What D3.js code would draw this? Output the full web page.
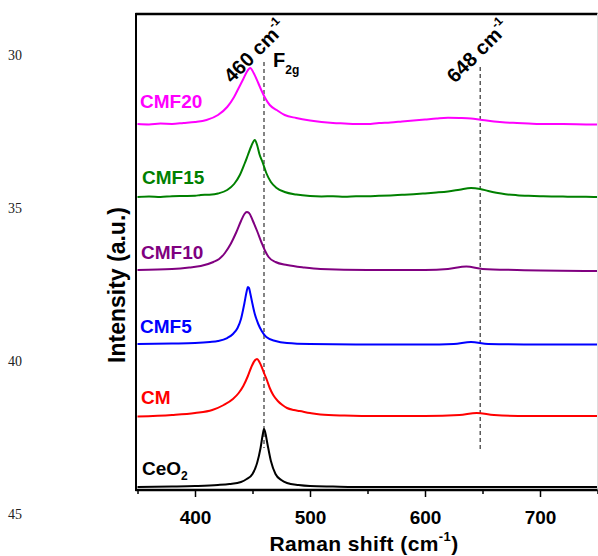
<!DOCTYPE html>
<html><head><meta charset="utf-8">
<script src="https://cdn.jsdelivr.net/npm/d3@7/dist/d3.min.js"></script>
<style>body{margin:0;background:#fff;} svg{display:block;}</style>
</head><body>
<svg id="chart" width="598" height="556"></svg>
<script>
// ---- data (Raman shift in cm-1, intensity in a.u. incl. stacking offset) ----
const seriesNames = ["CeO2", "CM", "CMF5", "CMF10", "CMF15", "CMF20"];
const seriesColors = ["#000000", "#ff0000", "#0000ff", "#800080", "#008000", "#ff00ff"];

const ceo2 = [[350,2],[380,2.5],[400,3],[420,4],[430,5],[440,7],[445,10],[450,15],[454,26],[457,41],[459,55],[460,60],[461,57],[463,45],[466,28],[470,15],[475,9],[480,6],[490,4],[500,3],[520,2.5],[550,2],[600,2],[650,2],[700,2],[750,2]];
const cm = [[350,72.5],[380,74],[400,76],[415,79],[425,84],[433,90],[438,96],[442,103],[446,113],[449,122],[452,128.5],[454,130],[456,127],[458,122],[460,116],[462.5,109],[465,101],[468,94],[472,88],[476,84],[480,81],[486,79],[491,78],[500,76],[509,74.5],[530,73.5],[560,73],[600,73],[630,74],[645,76],[660,74],[690,73],[720,73],[750,73]];
const cmf5 = [[350,145],[380,145.5],[400,146],[413,147],[420,148],[428,151],[433,155],[437,161],[440,170],[443,186],[445,198],[446,202],[447,201],[448,196],[450,185],[452,175],[455,165],[458,158],[462,152],[470,148],[480,146],[500,145],[550,144.5],[600,144.5],[625,145],[640,147],[655,145],[700,144.5],[750,144.5]];
const cmf10 = [[350,219],[380,220],[395,221.5],[405,223],[416,227],[421,230],[426,236],[431,245],[436,257],[440,268],[443,275],[445,277],[447,276],[450,269],[454,258],[458,246],[461,238],[464,232],[470,227],[480,224],[495,221.5],[509,220],[550,219],[600,219],[620,220],[636,222.5],[650,220],[680,219],[750,218]];
const cmf15 = [[350,292],[360,292.5],[370,292],[380,292.8],[390,293],[400,293.2],[405,294],[412,294.3],[420,295.5],[428,299],[434,305],[439,314],[443,325],[446,334],[449,343],[452,349],[454,344],[456,335],[459,326],[462,316],[466,307],[471,301],[478,297],[488,294.5],[500,293],[510,292.6],[520,292.8],[530,292.3],[540,292.7],[550,292.8],[560,293.2],[570,293.6],[580,294.2],[590,294.8],[600,295.6],[610,296.5],[620,297.6],[630,299.3],[640,301],[648,300],[655,298],[662,296.3],[670,294.8],[680,293.8],[690,293.2],[700,292.8],[710,292.5],[720,292.4],[730,292.2],[740,292.3],[750,292]];
const cmf20 = [[350,365],[360,364.6],[370,365.4],[380,365.1],[390,366],[400,367],[410,369],[420,374],[428,382],[434,392],[438,401],[442,410],[445,417],[448,421],[451,416],[455,406],[458,398],[461,391],[465,384],[471,379],[478,374],[488,371],[500,368.5],[510,367],[520,366],[530,365.5],[540,365],[550,365],[560,366],[570,366.5],[580,367.5],[590,368.5],[600,369.5],[610,370.5],[620,371.2],[630,371],[640,370.5],[648,369.3],[660,367.5],[670,366.5],[680,366],[690,365.5],[700,365],[720,365],[740,364.6],[750,364.5]];
const seriesData = [ceo2, cm, cmf5, cmf10, cmf15, cmf20];

const xTicksMajor = [400, 500, 600, 700];
const xTicksMinor = [350, 450, 550, 650, 750];
const markerShifts = [460, 648];
const lineNumbers = ["30", "35", "40", "45"];

// ---- layout ----
const svg = d3.select("#chart");
const pL = 137.5, pR = 597.5, pT = 14, pB = 489, axisY = 490;
const x = d3.scaleLinear().domain([350, 750]).range([pL, pR]);
const y = d3.scaleLinear().domain([0, 475]).range([pB, pT]);
const FONT = "'Liberation Sans', Arial, Helvetica, sans-serif";

// line numbers (manuscript margin)
const lnY = [60, 213, 366, 519];
svg.selectAll("text.ln").data(lineNumbers).enter().append("text")
  .attr("class","ln").attr("x", 8).attr("y", (d,i)=>lnY[i])
  .attr("font-family","'Liberation Serif', 'Times New Roman', serif")
  .attr("font-size", 14).attr("fill", "#222").text(d=>d);

// dashed marker lines
const markerRanges = [[62, 448], [67, 451]];
svg.selectAll("line.marker").data(markerShifts).enter().append("line")
  .attr("x1", d=>x(d)).attr("x2", d=>x(d))
  .attr("y1", (d,i)=>markerRanges[i][0]).attr("y2", (d,i)=>markerRanges[i][1])
  .attr("stroke", "#333").attr("stroke-width", 1.2).attr("stroke-dasharray", "4,3");

// spectra
const line = d3.line().x(d=>x(d[0])).y(d=>y(d[1])).curve(d3.curveMonotoneX);
svg.selectAll("path.spec").data(seriesData).enter().append("path")
  .attr("d", line).attr("fill","none")
  .attr("stroke", (d,i)=>seriesColors[i]).attr("stroke-width", 2)
  .attr("stroke-linejoin","round");

// frame
svg.append("line").attr("x1", pL-2).attr("x2", pR).attr("y1", pT).attr("y2", pT)
  .attr("stroke","#000").attr("stroke-width", 2.5);
svg.append("line").attr("x1", pR).attr("x2", pR).attr("y1", pT).attr("y2", axisY)
  .attr("stroke","#ddd").attr("stroke-width", 1);
svg.append("line").attr("x1", pL-1.5).attr("x2", pL-1.5).attr("y1", pT-1).attr("y2", axisY+1)
  .attr("stroke","#000").attr("stroke-width", 2);

// x axis
const xAxis = d3.axisBottom(x).tickValues(xTicksMajor).tickSize(7).tickPadding(14).tickFormat(d3.format("d"));
const gx = svg.append("g").attr("transform", `translate(0,${axisY})`).call(xAxis);
gx.select(".domain").attr("stroke-width", 2.5).attr("d", `M${pL-2},0H${pR}`);
gx.selectAll(".tick line").attr("stroke-width", 1.5);
gx.selectAll(".tick text").attr("font-family", FONT).attr("font-weight","bold").attr("font-size", 19).attr("fill","#000");
const xMinor = d3.axisBottom(x).tickValues(xTicksMinor).tickSize(4).tickFormat("");
const gxm = svg.append("g").attr("transform", `translate(0,${axisY})`).call(xMinor);
gxm.select(".domain").remove();
gxm.selectAll(".tick line").attr("stroke-width", 1.5);

// axis titles
const xt = svg.append("text").attr("x", 364).attr("y", 551).attr("text-anchor","middle")
  .attr("font-family", FONT).attr("font-weight","bold").attr("font-size", 21).attr("letter-spacing", 0.4);
xt.append("tspan").text("Raman shift (cm");
xt.append("tspan").attr("font-size", 13).attr("dy", -10).text("-1");
xt.append("tspan").attr("dy", 10).text(")");

svg.append("text").attr("transform", "translate(125,285) rotate(-90)").attr("text-anchor","middle")
  .attr("font-family", FONT).attr("font-weight","bold").attr("font-size", 23).text("Intensity (a.u.)");

// series labels
const labelPos = [[142,475],[141,404],[140,333],[141,259],[142,184],[140,108]];
seriesNames.forEach((name, i) => {
  const t = svg.append("text").attr("x", labelPos[i][0]).attr("y", labelPos[i][1])
    .attr("font-family", FONT).attr("font-weight","bold").attr("font-size", 19).attr("fill", seriesColors[i]);
  if (name === "CeO2") {
    t.append("tspan").text("CeO");
    t.append("tspan").attr("font-size", 12).attr("dy", 5).text("2");
  } else t.text(name);
});

// peak annotations
const annoPos = [[232, 84], [455, 84]];
markerShifts.forEach((v, i) => {
  const t = svg.append("text").attr("transform", `translate(${annoPos[i][0]},${annoPos[i][1]}) rotate(-45)`)
    .attr("font-family", FONT).attr("font-weight","bold").attr("font-size", 20);
  t.append("tspan").text(v + " cm");
  t.append("tspan").attr("font-size", 12).attr("dy", -10).text("-1");
});
const f = svg.append("text").attr("x", 273).attr("y", 67)
  .attr("font-family", FONT).attr("font-weight","bold").attr("font-size", 20);
f.append("tspan").text("F");
f.append("tspan").attr("font-size", 12).attr("dy", 7).text("2g");
</script>
</body></html>
